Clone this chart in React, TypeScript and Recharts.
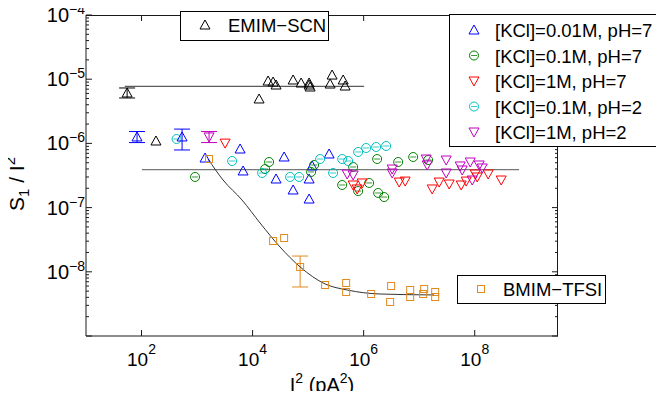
import React from 'react';
import { ScatterChart, Scatter, XAxis, YAxis, ErrorBar } from 'recharts';

type P = { x: number; y: number; err?: number[] };

const FONT = '"Liberation Sans", Arial, Helvetica, sans-serif';

// ---- tick labels ----
const X_TICKS = [1e2, 1e4, 1e6, 1e8];
const Y_DECADES = [-9, -8, -7, -6, -5, -4];
const Y_LABELLED = [-8, -7, -6, -5, -4];
const Y_MINOR_MULT = [1, 2, 3, 4, 5, 6, 7, 8, 9];
const Y_TICKS: number[] = [];
Y_DECADES.forEach((d) => {
  if (d === -4) Y_TICKS.push(1e-4);
  else Y_MINOR_MULT.forEach((m) => Y_TICKS.push(m * Math.pow(10, d)));
});

const X_DOMAIN: [number, number] = [10, Math.pow(10, 9.5)];
const Y_DOMAIN: [number, number] = [1e-9, 1e-4];

// ---- series ----
const emimScn: P[] = [
  { x: 182, y: 1.09e-6 },
  { x: 13090, y: 4.92e-6 },
  { x: 19010, y: 9.37e-6 },
  { x: 23390, y: 9.03e-6 },
  { x: 26480, y: 8.12e-6 },
  { x: 53700, y: 9.72e-6 },
  { x: 74800, y: 8.72e-6 },
  { x: 104200, y: 8.72e-6 },
  { x: 108700, y: 7.56e-6 },
  { x: 104200, y: 8.12e-6 },
  { x: 270400, y: 1.16e-5 },
  { x: 248900, y: 8.41e-6 },
  { x: 427600, y: 9.72e-6 },
  { x: 464500, y: 7.83e-6 },
];
const emimScnErr: P[] = [{ x: 55, y: 6.1e-6, err: [1.0e-6, 1.2e-6] }];

const kcl001ph7: P[] = [
  { x: 1393, y: 5.92e-7 },
  { x: 5960, y: 8.18e-7 },
  { x: 6745, y: 3.72e-7 },
  { x: 26480, y: 2.79e-7 },
  { x: 36970, y: 6.14e-7 },
  { x: 53700, y: 1.88e-7 },
  { x: 104200, y: 1.36e-7 },
  { x: 104200, y: 2.79e-7 },
  { x: 118100, y: 4.45e-7 },
  { x: 238800, y: 6.84e-7 },
];
const kcl001ph7Err: P[] = [
  { x: 83, y: 1.26e-6, err: [0.23e-6, 0.27e-6] },
  { x: 537, y: 1.26e-6, err: [0.47e-6, 0.41e-6] },
];

const kcl01ph7: P[] = [
  { x: 920, y: 3.0e-7 },
  { x: 16790, y: 3.99e-7 },
  { x: 19820, y: 5.13e-7 },
  { x: 113300, y: 3.59e-7 },
  { x: 128200, y: 4.61e-7 },
  { x: 410200, y: 2.25e-7 },
  { x: 647100, y: 4.29e-7 },
  { x: 796300, y: 1.81e-7 },
  { x: 1.256e6, y: 2.42e-7 },
  { x: 1.75e6, y: 5.71e-7 },
  { x: 1.824e6, y: 1.69e-7 },
  { x: 2.339e6, y: 1.46e-7 },
  { x: 4.187e6, y: 5.13e-7 },
  { x: 7.797e6, y: 6.14e-7 },
  { x: 1.452e7, y: 5.51e-7 },
];

const kcl1ph7: P[] = [
  { x: 3200, y: 1.01e-6 },
  { x: 647100, y: 2.25e-7 },
  { x: 764000, y: 1.95e-7 },
  { x: 940000, y: 2.42e-7 },
  { x: 4.365e6, y: 2.5e-7 },
  { x: 5.598e6, y: 2.59e-7 },
  { x: 1.714e7, y: 1.95e-7 },
  { x: 2.291e7, y: 2.5e-7 },
  { x: 3.474e7, y: 2.33e-7 },
  { x: 5.715e7, y: 2.25e-7 },
  { x: 7.031e7, y: 2.59e-7 },
  { x: 1.021e8, y: 3.34e-7 },
  { x: 1.109e8, y: 3.0e-7 },
  { x: 1.749e8, y: 3.34e-7 },
  { x: 3.0e8, y: 2.69e-7 },
];

const kcl01ph2: P[] = [
  { x: 428, y: 1.17e-6 },
  { x: 4275, y: 5.32e-7 },
  { x: 14830, y: 3.46e-7 },
  { x: 47420, y: 3.0e-7 },
  { x: 68870, y: 3.0e-7 },
  { x: 164400, y: 5.71e-7 },
  { x: 281800, y: 3.46e-7 },
  { x: 410200, y: 5.71e-7 },
  { x: 525900, y: 5.32e-7 },
  { x: 796300, y: 7.35e-7 },
  { x: 1.109e6, y: 8.48e-7 },
  { x: 1.68e6, y: 8.79e-7 },
  { x: 2.541e6, y: 9.11e-7 },
];

const kcl1ph2: P[] = [
  { x: 504600, y: 3.34e-7 },
  { x: 647100, y: 3.22e-7 },
  { x: 3.264e6, y: 3.99e-7 },
  { x: 3.264e6, y: 3.46e-7 },
  { x: 1.337e7, y: 5.71e-7 },
  { x: 1.393e7, y: 4.61e-7 },
  { x: 3.063e7, y: 5.51e-7 },
  { x: 3.063e7, y: 3.46e-7 },
  { x: 5.479e7, y: 4.45e-7 },
  { x: 5.956e7, y: 3.85e-7 },
  { x: 8.3e7, y: 5.13e-7 },
  { x: 9.016e7, y: 2.69e-7 },
  { x: 1.205e8, y: 4.61e-7 },
  { x: 1.365e8, y: 4.14e-7 },
];
const kcl1ph2Err: P[] = [{ x: 1644, y: 1.26e-6, err: [0.23e-6, 0.27e-6] }];

const bmimTfsi: P[] = [
  { x: 1644, y: 5.71e-7 },
  { x: 23390, y: 3.02e-8 },
  { x: 36970, y: 3.36e-8 },
  { x: 202300, y: 6.23e-9 },
  { x: 484100, y: 6.7e-9 },
  { x: 484100, y: 4.85e-9 },
  { x: 1.365e6, y: 4.51e-9 },
  { x: 3.126e6, y: 6.01e-9 },
  { x: 3.0e6, y: 3.39e-9 },
  { x: 6.887e6, y: 5.21e-9 },
  { x: 6.887e6, y: 4.05e-9 },
  { x: 1.23e7, y: 5.4e-9 },
  { x: 1.18e7, y: 4.51e-9 },
  { x: 1.941e7, y: 4.85e-9 },
  { x: 1.941e7, y: 4.05e-9 },
];
const bmimTfsiErr: P[] = [{ x: 71800, y: 1.19e-8, err: [0.61e-8, 0.57e-8] }];

// ---- guide lines ----
const emimLevel: P[] = [
  { x: 50, y: 7.75e-6 },
  { x: 1.02e6, y: 7.75e-6 },
];
const kclLevel: P[] = [
  { x: 102, y: 3.9e-7 },
  { x: 6.3e8, y: 3.9e-7 },
];
const bmimFit: P[] = [
  { x: 1578, y: 5.71e-7 },
  { x: 2938, y: 2.69e-7 },
  { x: 6471, y: 1.31e-7 },
  { x: 13650, y: 5.75e-8 },
  { x: 31260, y: 2.43e-8 },
  { x: 71800, y: 1.19e-8 },
  { x: 202300, y: 6.46e-9 },
  { x: 504600, y: 5.21e-9 },
  { x: 1.98e6, y: 4.51e-9 },
  { x: 1.862e7, y: 4.36e-9 },
];

const C_BLACK = '#000000';
const C_BLUE = '#0000ff';
const C_GREEN = '#008000';
const C_RED = '#ff0000';
const C_CYAN = '#00bfbf';
const C_MAG = '#bf00bf';
const C_ORANGE = '#e08a1e';

// ---- layout ----
const CHART_W = 664;
const CHART_H = 399;
const MARGIN = { top: 15, right: 106, bottom: 0, left: 0 };
const Y_AXIS_W = 86;
const X_AXIS_H = 63;
const PLOT_L = MARGIN.left + Y_AXIS_W;
const PLOT_T = MARGIN.top;
const PLOT_W = CHART_W - MARGIN.left - MARGIN.right - Y_AXIS_W;
const PLOT_H = CHART_H - MARGIN.top - MARGIN.bottom - X_AXIS_H;
const PLOT_R = PLOT_L + PLOT_W;
const PLOT_B = PLOT_T + PLOT_H;

// log mapping matching the axes, used only for the mirrored frame ticks
const lx = (v: number) =>
  PLOT_L + ((Math.log10(v) - Math.log10(X_DOMAIN[0])) / (Math.log10(X_DOMAIN[1]) - Math.log10(X_DOMAIN[0]))) * PLOT_W;
const ly = (v: number) =>
  PLOT_B - ((Math.log10(v) - Math.log10(Y_DOMAIN[0])) / (Math.log10(Y_DOMAIN[1]) - Math.log10(Y_DOMAIN[0]))) * PLOT_H;

// ---- marker drawing ----
const Marker = ({ kind, color, cx, cy }: { kind: string; color: string; cx: number; cy: number }) => {
  const sw = 1;
  if (kind === 'up') {
    return (
      <g>
        <polygon points={`${cx},${cy - 5} ${cx - 5},${cy + 4} ${cx + 5},${cy + 4}`} fill="none" stroke={color} strokeWidth={sw} />
      </g>
    );
  }
  if (kind === 'down') {
    return (
      <g>
        <polygon points={`${cx - 5},${cy - 4} ${cx + 5},${cy - 4} ${cx},${cy + 5}`} fill="none" stroke={color} strokeWidth={sw} />
      </g>
    );
  }
  if (kind === 'circle') {
    return (
      <g>
        <circle cx={cx} cy={cy} r={4.5} fill="none" stroke={color} strokeWidth={sw} />
        <line x1={cx - 3} x2={cx + 3} y1={cy} y2={cy} stroke={color} strokeWidth={0.8} />
      </g>
    );
  }
  return (
    <g>
      <rect x={cx - 3.5} y={cy - 3.5} width={7} height={7} fill="none" stroke={color} strokeWidth={sw} />
    </g>
  );
};

const shapeOf = (kind: string, color: string) => (props: any) => {
  const { cx, cy } = props;
  if (cx == null || cy == null || isNaN(cx) || isNaN(cy)) return <g />;
  return <Marker kind={kind} color={color} cx={cx} cy={cy} />;
};
const noShape = () => <g />;

// ---- ticks ----
const isMajor = (v: number) => Math.abs(Math.log10(v) - Math.round(Math.log10(v))) < 1e-6;
const expOf = (v: number) => Math.round(Math.log10(v));
const expLabel = (v: number) => {
  const e = expOf(v);
  return e < 0 ? '\u2212' + Math.abs(e) : String(e);
};
const LW = 1;
const FRAME = '#1a1a1a';

const LeftTick = (props: any) => {
  const { x, y, payload } = props;
  const v = payload.value;
  const maj = isMajor(v);
  const len = maj ? 6 : 3;
  const showLabel = maj && Y_LABELLED.indexOf(expOf(v)) >= 0;
  return (
    <g>
      <line x1={x} x2={x + len} y1={y} y2={y} stroke={FRAME} strokeWidth={LW} />
      {showLabel && (
        <text x={x - 1} y={y + 7} textAnchor="end" fontSize={20} fontFamily={FONT} fill="#000">
          10<tspan dy={-8} fontSize={14}>{expLabel(v)}</tspan>
        </text>
      )}
    </g>
  );
};
const BottomTick = (props: any) => {
  const { x, y, payload } = props;
  const v = payload.value;
  return (
    <g>
      <line x1={x} x2={x} y1={y} y2={y - 6} stroke={FRAME} strokeWidth={LW} />
      <text x={x} y={y + 30} textAnchor="middle" fontSize={19} fontFamily={FONT} fill="#000">
        10<tspan dy={-12} fontSize={14}>{expLabel(v)}</tspan>
      </text>
    </g>
  );
};

const LEGEND_ROWS = [
  { label: '[KCl]=0.01M, pH=7', kind: 'up', color: C_BLUE },
  { label: '[KCl]=0.1M, pH=7', kind: 'circle', color: C_GREEN },
  { label: '[KCl]=1M, pH=7', kind: 'down', color: C_RED },
  { label: '[KCl]=0.1M, pH=2', kind: 'circle', color: C_CYAN },
  { label: '[KCl]=1M, pH=2', kind: 'down', color: C_MAG },
];

const pointSeries = [
  { data: emimScn, kind: 'up', color: C_BLACK },
  { data: kcl001ph7, kind: 'up', color: C_BLUE },
  { data: kcl01ph7, kind: 'circle', color: C_GREEN },
  { data: kcl01ph2, kind: 'circle', color: C_CYAN },
  { data: kcl1ph7, kind: 'down', color: C_RED },
  { data: kcl1ph2, kind: 'down', color: C_MAG },
  { data: bmimTfsi, kind: 'square', color: C_ORANGE },
];
const errSeries = [
  { data: emimScnErr, kind: 'up', color: C_BLACK },
  { data: kcl001ph7Err, kind: 'up', color: C_BLUE },
  { data: kcl1ph2Err, kind: 'down', color: C_MAG },
  { data: bmimTfsiErr, kind: 'square', color: C_ORANGE },
];

const axisLine = { stroke: FRAME, strokeWidth: LW };

export default function App() {
  return (
    <div style={{ position: 'relative', margin: '-8px 0 -8px -8px', width: CHART_W, height: CHART_H }}>
      <ScatterChart width={CHART_W} height={CHART_H} margin={MARGIN}>
        <XAxis
          xAxisId="b"
          type="number"
          dataKey="x"
          scale="log"
          domain={X_DOMAIN}
          allowDataOverflow
          ticks={X_TICKS}
          interval={0}
          height={X_AXIS_H}
          tickLine={false}
          tickSize={0}
          tickMargin={0}
          tick={<BottomTick />}
          axisLine={axisLine}
        />
        <YAxis
          yAxisId="l"
          type="number"
          dataKey="y"
          scale="log"
          domain={Y_DOMAIN}
          allowDataOverflow
          ticks={Y_TICKS}
          interval={0}
          width={Y_AXIS_W}
          tickLine={false}
          tickSize={0}
          tickMargin={0}
          tick={<LeftTick />}
          axisLine={axisLine}
        />

        <Scatter xAxisId="b" yAxisId="l" data={emimLevel} shape={noShape} line={{ stroke: '#333', strokeWidth: 1 }} isAnimationActive={false} />
        <Scatter xAxisId="b" yAxisId="l" data={kclLevel} shape={noShape} line={{ stroke: '#777', strokeWidth: 1.2 }} isAnimationActive={false} />
        <Scatter xAxisId="b" yAxisId="l" data={bmimFit} shape={noShape} line={{ stroke: '#333', strokeWidth: 1 }} lineJointType="monotoneX" isAnimationActive={false} />

        {pointSeries.map((s, i) => (
          <Scatter key={'p' + i} xAxisId="b" yAxisId="l" data={s.data} shape={shapeOf(s.kind, s.color)} isAnimationActive={false} />
        ))}
        {errSeries.map((s, i) => (
          <Scatter key={'e' + i} xAxisId="b" yAxisId="l" data={s.data} shape={shapeOf(s.kind, s.color)} isAnimationActive={false}>
            <ErrorBar dataKey="err" direction="y" width={8} stroke={s.color} strokeWidth={1} />
          </Scatter>
        ))}
      </ScatterChart>

      <svg style={{ position: 'absolute', left: 0, top: 0, pointerEvents: 'none' }} width={CHART_W} height={CHART_H}>
        {/* top and right frame with mirrored ticks */}
        <line x1={PLOT_L} x2={PLOT_R} y1={PLOT_T + 0.5} y2={PLOT_T + 0.5} stroke={FRAME} strokeWidth={1} />
        <line x1={PLOT_R - 0.5} x2={PLOT_R - 0.5} y1={PLOT_T} y2={PLOT_B} stroke={FRAME} strokeWidth={1} />
        {X_TICKS.map((v) => (
          <line key={'tt' + v} x1={lx(v)} x2={lx(v)} y1={PLOT_T} y2={PLOT_T + 6} stroke={FRAME} strokeWidth={1} />
        ))}
        {Y_TICKS.map((v) => (
          <line key={'rt' + v} x1={PLOT_R} x2={PLOT_R - (isMajor(v) ? 6 : 3)} y1={ly(v)} y2={ly(v)} stroke={FRAME} strokeWidth={1} />
        ))}

        {/* y label */}
        <text transform="translate(24,184) rotate(-90)" textAnchor="middle" fontSize={21} fontFamily={FONT} fill="#000">
          S<tspan dy={5} fontSize={15}>1</tspan>
          <tspan dy={-5}> / I</tspan>
          <tspan dy={-9} fontSize={15}>2</tspan>
        </text>
        {/* x label */}
        <text x={322} y={392} textAnchor="middle" fontSize={20} fontFamily={FONT} fill="#000">
          I<tspan dy={-9} fontSize={14}>2</tspan>
          <tspan dy={9}> (pA</tspan>
          <tspan dy={-9} fontSize={14}>2</tspan>
          <tspan dy={9}>)</tspan>
        </text>

        {/* EMIM-SCN legend */}
        <rect x={180.5} y={11.5} width={148} height={29} fill="#fff" stroke="#000" strokeWidth={1} />
        <Marker kind="up" color={C_BLACK} cx={205} cy={25} />
        <text x={228} y={32} fontSize={18.5} fontFamily={FONT} fill="#000">EMIM{'\u2212'}SCN</text>

        {/* KCl legend */}
        <rect x={449.5} y={14.5} width={212} height={132} fill="#fff" stroke="#000" strokeWidth={1} />
        {LEGEND_ROWS.map((r, i) => (
          <g key={r.label}>
            <Marker kind={r.kind} color={r.color} cx={474} cy={30 + i * 25.5} />
            <text x={495} y={37 + i * 25.5} fontSize={18.5} fontFamily={FONT} fill="#000">{r.label}</text>
          </g>
        ))}

        {/* BMIM-TFSI legend */}
        <rect x={457.5} y={275.5} width={148} height={28} fill="#fff" stroke="#000" strokeWidth={1} />
        <Marker kind="square" color={C_ORANGE} cx={481} cy={289} />
        <text x={503} y={296} fontSize={18.5} fontFamily={FONT} fill="#000">BMIM{'\u2212'}TFSI</text>
      </svg>
    </div>
  );
}
